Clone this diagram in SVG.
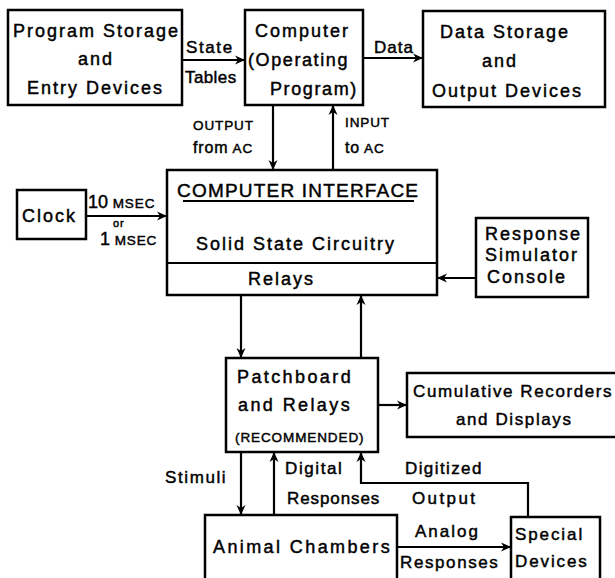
<svg xmlns="http://www.w3.org/2000/svg" width="615" height="578" viewBox="0 0 615 578">
  <style>
    .box { fill: #fff; stroke: #000; stroke-width: 2.5; }
    .ln { fill: none; stroke: #000; stroke-width: 2.2; }
    .arr { fill: none; stroke: #000; stroke-width: 2.2; marker-end: url(#ah); }
    text { font-family: "Liberation Sans", Arial, sans-serif; fill: #000; stroke: #000; stroke-width: 0.45; }
    .t { font-size: 18px; letter-spacing: 2px; }
    .l { font-size: 17px; letter-spacing: 1.6px; }
    .s { font-size: 13.5px; letter-spacing: 0.9px; }
    .h { font-size: 19px; letter-spacing: 1.2px; }
  </style>
  <defs>
    <marker id="ah" markerUnits="userSpaceOnUse" markerWidth="12" markerHeight="12" refX="10" refY="5" orient="auto">
      <path d="M0,0.5 L10,5 L0,9.5 L3,5 Z" fill="#000"/>
    </marker>
  </defs>

  <!-- connectors -->
  <g id="connectors">
    <line class="arr" x1="182" y1="60" x2="245" y2="60"/>
    <line class="arr" x1="363" y1="58" x2="423" y2="58"/>
    <line class="arr" x1="273" y1="105" x2="273" y2="170"/>
    <line class="arr" x1="333" y1="170" x2="333" y2="105"/>
    <line class="arr" x1="86" y1="216" x2="167" y2="216"/>
    <line class="arr" x1="476" y1="278" x2="437" y2="278"/>
    <line class="arr" x1="241" y1="295" x2="241" y2="358"/>
    <line class="arr" x1="361" y1="358" x2="361" y2="295"/>
    <line class="arr" x1="378" y1="405" x2="407" y2="405"/>
    <line class="arr" x1="241" y1="452" x2="241" y2="515"/>
    <line class="arr" x1="274" y1="515" x2="274" y2="452"/>
    <polyline class="arr" points="528,517 528,483 361,483 361,452"/>
    <line class="arr" x1="397" y1="547" x2="511" y2="547"/>
  </g>

  <g id="program-storage">
    <rect class="box" x="8" y="10" width="174" height="95"/>
    <text class="t" x="13" y="37">Program Storage</text>
    <text class="t" x="78" y="65">and</text>
    <text class="t" x="27" y="94">Entry Devices</text>
  </g>
  <g id="state-tables-label">
    <text class="l" x="186" y="53">State</text>
    <text class="l" x="185" y="83" style="letter-spacing:0.4px">Tables</text>
  </g>

  <g id="computer">
    <rect class="box" x="245" y="10" width="118" height="95"/>
    <text class="t" x="255" y="37">Computer</text>
    <text class="t" x="248" y="66" style="letter-spacing:1.6px">(Operating</text>
    <text class="t" x="270" y="95" style="letter-spacing:1.6px">Program)</text>
  </g>
  <g id="data-label">
    <text class="l" x="374" y="53" style="letter-spacing:1px">Data</text>
  </g>

  <g id="data-storage">
    <rect class="box" x="423" y="11" width="182" height="96"/>
    <text class="t" x="440" y="38">Data Storage</text>
    <text class="t" x="482" y="67">and</text>
    <text class="t" x="432" y="97">Output Devices</text>
  </g>

  <g id="io-labels">
    <text class="s" x="193" y="130">OUTPUT</text>
    <text class="s" x="193" y="153"><tspan style="font-size:16px">from</tspan> AC</text>
    <text class="s" x="345" y="127">INPUT</text>
    <text class="s" x="345" y="153"><tspan style="font-size:16px">to</tspan> AC</text>
  </g>

  <g id="computer-interface">
    <rect class="box" x="167" y="170" width="270" height="125"/>
    <line class="ln" x1="167" y1="263" x2="437" y2="263"/>
    <text class="h" x="177" y="197">COMPUTER INTERFACE</text>
    <line x1="183" y1="201" x2="414" y2="201" stroke="#000" stroke-width="2"/>
    <text class="t" x="196" y="250">Solid State Circuitry</text>
    <text class="t" x="248" y="285">Relays</text>
  </g>

  <g id="clock">
    <rect class="box" x="17" y="190" width="69" height="49"/>
    <text class="t" x="22" y="222">Clock</text>
    <text class="s" x="88" y="208"><tspan style="font-size:18px;letter-spacing:0">10</tspan> MSEC</text>
    <text class="s" x="113" y="227" style="font-size:11px">or</text>
    <text class="s" x="100" y="245"><tspan style="font-size:18px;letter-spacing:0">1</tspan> MSEC</text>
  </g>

  <g id="response-simulator">
    <rect class="box" x="476" y="218" width="112" height="79"/>
    <text class="t" x="485" y="240">Response</text>
    <text class="t" x="485" y="261">Simulator</text>
    <text class="t" x="487" y="283">Console</text>
  </g>

  <g id="patchboard">
    <rect class="box" x="226" y="358" width="152" height="94"/>
    <text class="t" x="237" y="383" style="letter-spacing:2.4px">Patchboard</text>
    <text class="t" x="238" y="411" style="letter-spacing:2.4px">and Relays</text>
    <text class="s" x="235" y="442">(RECOMMENDED)</text>
  </g>

  <g id="cumulative-recorders">
    <rect class="box" x="407" y="373" width="212" height="64"/>
    <text class="l" x="413" y="397">Cumulative Recorders</text>
    <text class="l" x="456" y="425">and Displays</text>
  </g>

  <g id="chamber-labels">
    <text class="l" x="165" y="483">Stimuli</text>
    <text class="l" x="285" y="474">Digital</text>
    <text class="l" x="287" y="504" style="letter-spacing:0.9px">Responses</text>
    <text class="l" x="405" y="474" style="letter-spacing:1.4px">Digitized</text>
    <text class="l" x="412" y="504" style="letter-spacing:2.4px">Output</text>
    <text class="l" x="415" y="537" style="letter-spacing:2px">Analog</text>
    <text class="l" x="400" y="568">Responses</text>
  </g>

  <g id="animal-chambers">
    <rect class="box" x="205" y="515" width="192" height="70"/>
    <text class="t" x="213" y="553" style="letter-spacing:2.4px">Animal Chambers</text>
  </g>

  <g id="special-devices">
    <rect class="box" x="511" y="517" width="89" height="70"/>
    <text class="l" x="515" y="540" style="letter-spacing:1.9px">Special</text>
    <text class="l" x="515" y="567" style="letter-spacing:1.9px">Devices</text>
  </g>
</svg>
